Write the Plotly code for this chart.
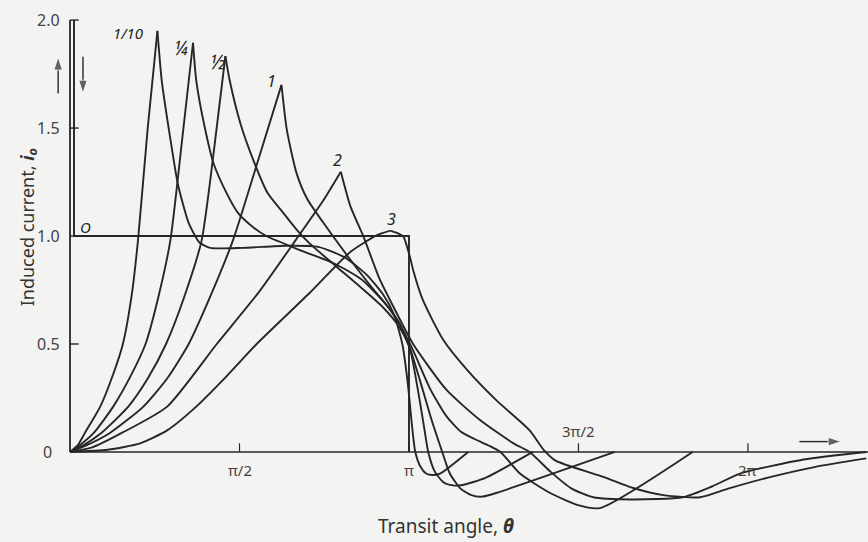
import math
import plotly.graph_objects as go

PI = math.pi

# transit angle (rad) and induced current for each curve
theta_0 = [0.037, 0.037, PI, PI]
i_0 = [2.0, 1.0, 1.0, 0.0]

theta_01 = [0, 0.07, 0.14, 0.28, 0.40, 0.49, 0.57, 0.63, 0.72, 0.81, 0.85, 0.93, 1.00, 1.10, 1.20, 1.30,
            1.60, 2.00, 2.30, 2.55, 2.75, 2.90, 3.00, 3.08, 3.13, 3.17, 3.20, 3.25, 3.30, 3.36, 3.43, 3.69]
i_01 = [0, 0.03, 0.09, 0.21, 0.36, 0.50, 0.72, 0.98, 1.50, 1.95, 1.72, 1.45, 1.24, 1.06, 0.97, 0.945,
        0.945, 0.955, 0.95, 0.90, 0.82, 0.73, 0.64, 0.50, 0.32, 0.12, 0.0, -0.07, -0.10, -0.107, -0.10, 0.0]

theta_14 = [0, 0.10, 0.22, 0.40, 0.56, 0.70, 0.82, 0.93, 1.04, 1.14, 1.17, 1.25, 1.33, 1.45, 1.56, 1.70,
            1.82, 2.13, 2.44, 2.70, 2.90, 3.05, 3.15, 3.22, 3.28, 3.32, 3.38, 3.46, 3.55, 3.64, 3.85, 4.29]
i_14 = [0, 0.035, 0.088, 0.21, 0.35, 0.50, 0.72, 0.98, 1.45, 1.895, 1.72, 1.50, 1.337, 1.20, 1.105, 1.04,
        1.0, 0.935, 0.875, 0.80, 0.70, 0.60, 0.48, 0.30, 0.12, 0.0, -0.09, -0.14, -0.155, -0.153, -0.12, 0.0]

theta_12 = [0, 0.12, 0.29, 0.54, 0.72, 0.89, 1.06, 1.22, 1.33, 1.44, 1.48, 1.58, 1.70, 1.83, 1.98, 2.10,
            2.22, 2.47, 2.70, 2.90, 3.05, 3.15, 3.25, 3.35, 3.45, 3.52, 3.62, 3.72, 3.82, 3.95, 5.05]
i_12 = [0, 0.03, 0.088, 0.21, 0.34, 0.50, 0.72, 0.98, 1.38, 1.833, 1.72, 1.52, 1.35, 1.20, 1.105, 1.03,
        0.966, 0.858, 0.76, 0.67, 0.58, 0.48, 0.32, 0.15, 0.0, -0.10, -0.17, -0.20, -0.207, -0.19, 0.0]

theta_1 = [0, 0.15, 0.37, 0.68, 0.90, 1.10, 1.30, 1.51, 1.70, 1.96, 2.01, 2.10, 2.20, 2.35, 2.60, 2.80,
           2.95, 3.08, 3.18, 3.34, 3.49, 3.62, 3.75, 3.88, 3.99, 4.17, 4.45, 4.70, 4.91, 5.77]
i_1 = [0, 0.03, 0.088, 0.21, 0.34, 0.50, 0.72, 0.98, 1.28, 1.70, 1.49, 1.29, 1.17, 1.06, 0.889, 0.76,
       0.67, 0.57, 0.47, 0.29, 0.165, 0.095, 0.06, 0.03, 0.0, -0.10, -0.19, -0.245, -0.26, 0.0]

theta_2 = [0, 0.20, 0.48, 0.90, 1.36, 1.75, 2.09, 2.35, 2.51, 2.60, 2.72, 2.87, 3.00, 3.18, 3.49,
           3.80, 4.11, 4.26, 4.45, 4.65, 4.85, 5.20, 5.68, 5.95, 6.21, 6.80, 7.38]
i_2 = [0, 0.02, 0.088, 0.21, 0.50, 0.74, 0.98, 1.167, 1.298, 1.136, 0.997, 0.80, 0.67, 0.50, 0.287,
       0.148, 0.04, 0.0, -0.09, -0.17, -0.21, -0.22, -0.21, -0.16, -0.10, -0.035, 0.0]

theta_3 = [0, 0.35, 0.65, 0.90, 1.17, 1.45, 1.73, 2.22, 2.60, 2.85, 2.97, 3.05, 3.09, 3.15, 3.18,
           3.27, 3.46, 3.68, 3.95, 4.26, 4.39, 4.50, 4.91, 5.22, 5.50, 5.84, 6.10, 6.46, 6.90, 7.38]
i_3 = [0, 0.01, 0.04, 0.10, 0.21, 0.35, 0.50, 0.736, 0.927, 1.005, 1.025, 1.01, 0.997, 0.904, 0.843,
       0.704, 0.518, 0.38, 0.24, 0.10, 0.01, -0.04, -0.11, -0.167, -0.20, -0.21, -0.17, -0.12, -0.07, -0.03]

curves = [("0", theta_0, i_0), ("1/10", theta_01, i_01), ("1/4", theta_14, i_14),
          ("1/2", theta_12, i_12), ("1", theta_1, i_1), ("2", theta_2, i_2), ("3", theta_3, i_3)]

# curve labels and where they sit
curve_labels = ["<i>O</i>", "<i>1/10</i>", "<i>¼</i>", "<i>½</i>", "<i>1</i>", "<i>2</i>", "<i>3</i>"]
label_theta = [0.14, 0.54, 1.03, 1.37, 1.87, 2.48, 2.98]
label_i = [1.04, 1.94, 1.87, 1.805, 1.72, 1.35, 1.08]
label_size = [15, 15, 19, 19, 16, 16, 16]

y_ticks = [0.5, 1.0, 1.5, 2.0]
y_tick_text = ["0.5", "1.0", "1.5", "2.0"]
x_ticks = [PI / 2, PI, 3 * PI / 2, 2 * PI]
x_tick_text = ["π/2", "π", "3π/2", "2π"]
x_tick_above = [False, False, True, False]

INK = "#262626"
BG = "#f3f3f1"
FONT = "Noto Sans"

fig = go.Figure()
for name, th, cur in curves:
    if name == "0":
        fig.add_trace(go.Scatter(x=th, y=cur, mode="lines", line=dict(color=INK, width=1.9),
                                 hoverinfo="skip"))
        continue
    # draw rise and fall separately so the peak stays a sharp cusp
    k = cur.index(max(cur))
    for seg in (slice(0, k + 1), slice(k, None)):
        fig.add_trace(go.Scatter(x=th[seg], y=cur[seg], mode="lines",
                                 line=dict(color=INK, width=1.9, shape="spline", smoothing=0.6),
                                 hoverinfo="skip"))

# axis lines
fig.add_shape(type="line", x0=0, x1=0, y0=0, y1=2.0, line=dict(color=INK, width=1.8))
fig.add_shape(type="line", x0=0, x1=7.4, y0=0, y1=0, line=dict(color=INK, width=1.5))
for v in y_ticks:
    fig.add_shape(type="line", x0=0, x1=0.08, y0=v, y1=v, line=dict(color=INK, width=1.4))
for v in x_ticks:
    fig.add_shape(type="line", x0=v, x1=v, y0=0, y1=0.04, line=dict(color=INK, width=1.2))

# impulse arrows beside the axis and the direction arrow along it
arrows = [([-0.11, -0.11], [1.66, 1.83]), ([0.12, 0.12], [1.83, 1.66]), ([6.76, 7.15], [0.048, 0.048])]
for ax_, ay_ in arrows:
    fig.add_trace(go.Scatter(x=ax_, y=ay_, mode="lines+markers", hoverinfo="skip",
                             line=dict(color=INK, width=1.4),
                             marker=dict(symbol="arrow", angleref="previous", size=[0, 14], color=INK)))

ann = []
for v, t in zip(y_ticks, y_tick_text):
    ann.append(dict(x=-0.07, y=v, text=t, xanchor="right", yanchor="middle", showarrow=False,
                    font=dict(size=16, color="#444")))
ann.append(dict(x=-0.15, y=0, text="0", xanchor="right", yanchor="middle", showarrow=False,
                font=dict(size=16, color="#444")))
for v, t, above in zip(x_ticks, x_tick_text, x_tick_above):
    ann.append(dict(x=v, y=0.095 if above else -0.085, text=t, xanchor="center", yanchor="middle",
                    showarrow=False, font=dict(size=15, color="#444")))
for t, lx, ly, s in zip(curve_labels, label_theta, label_i, label_size):
    ann.append(dict(x=lx, y=ly, text=t, showarrow=False, font=dict(size=s, color=INK)))

ann.append(dict(x=-0.39, y=1.04, text="Induced current, <b><i>i</i></b><sub><b><i>o</i></b></sub>",
                textangle=-90, showarrow=False, font=dict(size=18, color="#333")))
ann.append(dict(x=3.485, y=-0.345, text="Transit angle, <b><i>θ</i></b>", showarrow=False,
                font=dict(size=19, color="#333")))

fig.update_layout(
    width=868, height=542,
    margin=dict(l=0, r=0, t=0, b=0),
    paper_bgcolor=BG, plot_bgcolor=BG,
    showlegend=False,
    font=dict(family=FONT),
    annotations=ann,
    xaxis=dict(range=[-0.649, 7.396], visible=False),
    yaxis=dict(range=[-0.417, 2.093], visible=False),
)

fig.write_html("out.html", config={"displayModeBar": False},
               post_script="document.body.style.margin='0';document.body.style.background='%s';" % BG)
